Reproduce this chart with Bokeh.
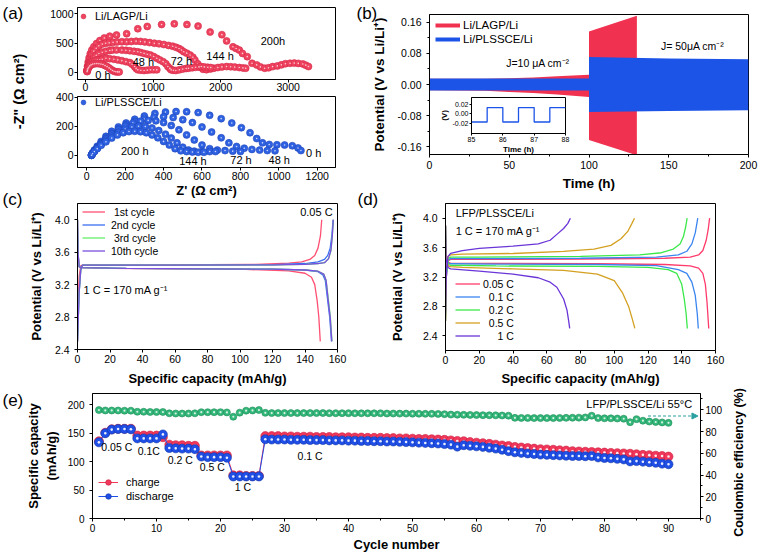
import math
from bokeh.plotting import figure
from bokeh.layouts import column, row
from bokeh.models import (Range1d, LinearAxis, FixedTicker, PrintfTickFormatter,
                          Label, Legend, LegendItem, Arrow, NormalHead)
from bokeh.embed import file_html
from bokeh.resources import INLINE

FONT = "Liberation Sans"

# ---------------- (a) Nyquist data ----------------
a_top_0h_x = [25, 30, 38, 50, 65, 85, 110, 140, 170, 200, 230, 260, 290, 320, 350, 375, 400, 425, 450, 475, 500]
a_top_0h_y = [15, 40, 65, 90, 112, 130, 143, 150, 152, 150, 145, 135, 120, 100, 78, 55, 35, 20, 12, 10, 10]
a_top_48h_x = [25, 30, 38, 50, 65, 85, 110, 140, 175, 211, 250, 305, 360, 422, 480, 540, 600, 657, 690, 727, 750, 775, 820, 868, 915, 962, 1010, 1056]
a_top_48h_y = [20, 50, 85, 115, 145, 170, 190, 205, 212, 213, 225, 242, 235, 225, 215, 202, 185, 169, 140, 101, 70, 45, 38, 34, 40, 45, 45, 45]
a_top_72h_x = [25, 32, 42, 55, 72, 95, 125, 160, 200, 250, 305, 360, 399, 460, 540, 600, 657, 720, 775, 820, 868, 915, 962, 1010, 1056, 1100, 1150, 1190, 1220, 1250, 1268, 1300, 1338, 1390, 1440, 1490, 1526, 1580, 1630, 1680, 1714, 1760, 1810, 1854]
a_top_72h_y = [25, 60, 100, 140, 180, 220, 260, 295, 325, 345, 362, 375, 382, 385, 382, 378, 371, 362, 354, 340, 326, 312, 298, 272, 242, 215, 185, 150, 101, 70, 45, 38, 34, 45, 58, 68, 73, 80, 88, 95, 101, 95, 88, 84]
a_top_144h_x = [25, 35, 50, 70, 95, 125, 160, 200, 250, 300, 352, 410, 469, 540, 610, 680, 750, 815, 880, 950, 1020, 1090, 1160, 1230, 1291, 1340, 1385, 1420, 1455, 1500, 1549, 1590, 1620, 1660, 1700, 1740, 1790, 1850, 1901, 1960, 2020, 2089, 2150, 2210, 2277, 2330, 2371]
a_top_144h_y = [30, 100, 170, 240, 305, 365, 415, 455, 485, 500, 506, 515, 522, 525, 525, 530, 535, 530, 522, 510, 500, 490, 478, 462, 449, 430, 410, 385, 354, 330, 298, 260, 213, 150, 90, 55, 48, 60, 73, 85, 95, 101, 98, 92, 84, 78, 73]
a_top_200h_x = [25, 32, 42, 55, 72, 95, 125, 165, 215, 280, 360, 460, 610, 775, 915, 1127, 1315, 1502, 1667, 1845, 2019, 2089, 2183, 2230, 2277, 2324, 2394, 2465, 2535, 2590, 2653, 2710, 2770, 2840, 2900, 2960, 3028, 3090, 3150, 3216, 3260, 3300]
a_top_200h_y = [40, 110, 180, 250, 320, 385, 440, 495, 545, 590, 620, 640, 663, 747, 787, 820, 831, 820, 792, 691, 646, 539, 438, 410, 382, 326, 270, 157, 129, 95, 73, 80, 100, 112, 130, 150, 157, 160, 155, 146, 125, 101]

a_bot_0h_x = [25, 30, 40, 55, 75, 100, 130, 165, 205, 250, 300, 355, 410, 465, 520, 580, 640, 700, 755, 805, 850, 885, 915, 950, 990, 1030, 1070, 1100, 1115]
a_bot_0h_y = [0, 15, 35, 62, 95, 130, 165, 195, 222, 248, 270, 288, 298, 301, 300, 294, 275, 252, 222, 190, 155, 115, 85, 74, 72, 70, 65, 50, 32]
a_bot_48h_x = [25, 30, 40, 55, 75, 100, 130, 165, 205, 250, 300, 350, 400, 450, 500, 550, 600, 650, 700, 740, 780, 820, 860, 900, 940, 980]
a_bot_48h_y = [0, 12, 30, 55, 85, 118, 150, 180, 208, 232, 250, 262, 265, 260, 245, 225, 195, 160, 120, 85, 60, 48, 40, 35, 32, 30]
a_bot_72h_x = [25, 30, 40, 55, 75, 100, 130, 165, 200, 240, 280, 320, 360, 400, 440, 480, 520, 560, 600, 640, 680, 720, 760, 800]
a_bot_72h_y = [0, 12, 30, 52, 80, 112, 145, 175, 200, 222, 235, 240, 237, 225, 205, 175, 140, 105, 70, 45, 35, 32, 28, 25]
a_bot_144h_x = [25, 30, 40, 55, 75, 100, 130, 165, 200, 235, 270, 305, 340, 375, 410, 440, 470, 500, 530, 560, 600, 640, 670]
a_bot_144h_y = [0, 10, 28, 50, 75, 102, 130, 158, 180, 195, 200, 198, 188, 170, 145, 118, 85, 55, 35, 28, 26, 25, 25]
a_bot_200h_x = [25, 30, 40, 55, 75, 100, 130, 160, 190, 220, 250, 280, 310, 340, 370, 400, 430, 460, 490, 520, 550, 580, 610]
a_bot_200h_y = [0, 10, 25, 45, 68, 92, 118, 140, 155, 163, 165, 162, 155, 140, 120, 95, 70, 45, 30, 25, 22, 20, 20]

# ---------------- (b) cycling envelopes ----------------
lagp_t1 = [0, 35, 50, 65, 80, 90, 100]
lagp_hi1 = [0.015, 0.015, 0.016, 0.018, 0.021, 0.023, 0.025]
lagp_lo1 = [-0.015, -0.016, -0.019, -0.022, -0.026, -0.029, -0.032]
lagp_t2 = [100, 130]
lagp_hi2 = [0.136, 0.177]
lagp_lo2 = [-0.143, -0.182]
pl_t1 = [0, 100]
pl_hi1 = [0.0155, 0.0155]
pl_lo1 = [-0.0155, -0.0155]
pl_t2 = [100, 150, 200]
pl_hi2 = [0.071, 0.067, 0.065]
pl_lo2 = [-0.071, -0.068, -0.066]
ins_t = [85, 85.5, 86.0, 86.5, 87.0, 87.5, 88]
ins_v = [-0.017, 0.013, -0.017, 0.013, -0.017, 0.013, 0.013]

# ---------------- (c) charge/discharge at 0.05 C ----------------
c1_ch_x = [0, 0.5, 1, 2, 3, 10, 40, 80, 110, 130, 138, 143, 146, 148, 149.5, 150.3]
c1_ch_y = [2.5, 3.0, 3.3, 3.43, 3.44, 3.44, 3.44, 3.445, 3.45, 3.465, 3.48, 3.51, 3.56, 3.65, 3.8, 4.0]
c1_dc_x = [0, 0.3, 1, 3, 20, 60, 100, 130, 140, 144, 146, 147.5, 148.5, 149.4]
c1_dc_y = [4.0, 3.6, 3.42, 3.41, 3.40, 3.395, 3.39, 3.37, 3.34, 3.29, 3.2, 3.0, 2.8, 2.5]
c2_ch_x = [0, 1, 2, 3, 10, 60, 120, 140, 148, 152, 154, 155.5, 156.5, 157.3]
c2_ch_y = [2.5, 3.1, 3.38, 3.44, 3.44, 3.44, 3.445, 3.46, 3.48, 3.51, 3.56, 3.65, 3.8, 4.0]
c2_dc_x = [0, 0.3, 1, 3, 30, 80, 120, 140, 148, 151, 152.5, 154, 155.2, 156.3]
c2_dc_y = [4.0, 3.6, 3.42, 3.41, 3.40, 3.395, 3.39, 3.38, 3.36, 3.32, 3.25, 3.0, 2.8, 2.5]
c3_ch_x = [0, 1, 2, 3, 10, 60, 120, 140, 148, 152, 154.5, 156, 156.8, 157.5]
c3_ch_y = [2.5, 3.1, 3.38, 3.44, 3.44, 3.44, 3.443, 3.45, 3.46, 3.47, 3.52, 3.62, 3.8, 4.0]
c3_dc_x = [0, 0.3, 1, 3, 30, 80, 120, 140, 148, 151.5, 153, 154.5, 155.6, 156.6]
c3_dc_y = [4.0, 3.6, 3.42, 3.41, 3.40, 3.395, 3.39, 3.38, 3.365, 3.33, 3.25, 3.0, 2.8, 2.5]
c10_ch_x = [0, 1, 2, 3, 10, 60, 120, 140, 148, 152, 154.5, 156, 156.8, 157.4]
c10_ch_y = [2.5, 3.1, 3.38, 3.44, 3.44, 3.44, 3.443, 3.45, 3.46, 3.47, 3.52, 3.63, 3.8, 4.0]
c10_dc_x = [0, 0.3, 1, 3, 30, 80, 120, 140, 148, 151.5, 153, 154.3, 155.5, 156.5]
c10_dc_y = [4.0, 3.6, 3.42, 3.41, 3.40, 3.395, 3.39, 3.38, 3.365, 3.33, 3.25, 3.0, 2.8, 2.5]
c_labels = ["\u00a01st cycle", "2nd cycle", "\u00a03rd cycle", "10th cycle"]

# ---------------- (d) rate curves ----------------
d005_ch_x = [0, 0.5, 1.5, 3, 20, 80, 130, 145, 150, 152.5, 154.5, 155.7, 156.5]
d005_ch_y = [2.6, 3.2, 3.42, 3.44, 3.44, 3.445, 3.455, 3.47, 3.5, 3.56, 3.7, 3.85, 4.0]
d005_dc_x = [0, 0.3, 1.5, 3, 30, 90, 130, 145, 150, 152.5, 154, 155, 156]
d005_dc_y = [3.9, 3.5, 3.40, 3.39, 3.385, 3.38, 3.37, 3.35, 3.32, 3.25, 3.1, 2.85, 2.5]
d01_ch_x = [0, 0.5, 1.5, 3, 20, 80, 125, 138, 143, 146, 148, 149.5]
d01_ch_y = [2.6, 3.2, 3.43, 3.45, 3.45, 3.455, 3.47, 3.5, 3.55, 3.65, 3.8, 4.0]
d01_dc_x = [0, 0.3, 1.5, 3, 30, 90, 125, 138, 143, 146, 148, 149.2, 149.8]
d01_dc_y = [3.9, 3.5, 3.39, 3.38, 3.375, 3.37, 3.355, 3.3, 3.25, 3.13, 2.95, 2.7, 2.5]
d02_ch_x = [0, 0.5, 1.5, 3, 20, 80, 115, 128, 135, 139, 141, 142.3, 143.2]
d02_ch_y = [2.6, 3.25, 3.45, 3.47, 3.47, 3.48, 3.5, 3.53, 3.58, 3.65, 3.75, 3.88, 4.0]
d02_dc_x = [0, 0.3, 1.5, 3, 30, 90, 120, 132, 137, 140, 141.5, 142.6, 143.3]
d02_dc_y = [3.9, 3.5, 3.37, 3.36, 3.35, 3.345, 3.33, 3.3, 3.25, 3.1, 2.9, 2.7, 2.5]
d05_ch_x = [0, 0.5, 1.5, 3, 10, 40, 70, 88, 98, 104, 108, 110.5, 112]
d05_ch_y = [2.6, 3.3, 3.48, 3.5, 3.51, 3.52, 3.55, 3.58, 3.63, 3.72, 3.82, 3.93, 4.0]
d05_dc_x = [0, 0.3, 1.5, 3, 10, 40, 70, 90, 100, 105, 108.5, 110.8, 112.2]
d05_dc_y = [3.9, 3.5, 3.35, 3.34, 3.33, 3.31, 3.29, 3.24, 3.15, 2.98, 2.8, 2.62, 2.5]
d1_ch_x = [0, 0.5, 1.5, 3, 10, 20, 40, 55, 62, 66, 70, 72.5, 74]
d1_ch_y = [2.7, 3.3, 3.48, 3.52, 3.56, 3.59, 3.62, 3.65, 3.7, 3.78, 3.86, 3.93, 4.0]
d1_dc_x = [0, 0.3, 1.5, 3, 20, 40, 55, 62, 66, 70, 72, 73, 73.6]
d1_dc_y = [3.9, 3.45, 3.33, 3.31, 3.28, 3.24, 3.19, 3.13, 3.06, 2.9, 2.75, 2.6, 2.5]
d_labels = ["0.05 C", "\u00a0\u00a00.1 C", "\u00a0\u00a00.2 C", "\u00a0\u00a00.5 C",
            "\u00a0\u00a0\u00a0\u00a0\u00a01 C"]

# ---------------- (e) rate / cycling ----------------
cycles = list(range(1, 91))
charge = [136, 151, 157, 158, 158, 158,
          146, 146, 146, 146, 143,
          130, 129, 129, 128, 128,
          111, 111, 111, 111, 111,
          76, 76, 75, 75, 75,
          145, 145, 145, 144.5, 144.5, 144, 144, 144, 143.5, 143.5,
          143.5, 143, 143, 143, 142.5, 142.5, 142, 142, 142, 141.5,
          141.5, 141, 141, 140.5, 140, 140, 139.5, 139, 138.5, 137.5,
          136.5, 136, 134.5, 133.5, 132.5, 131.5, 130, 128.5, 127.5, 126,
          125, 124, 123, 122, 121.5, 121, 120, 119.5, 118.5, 118,
          117.5, 117, 116.5, 116, 115.5, 115, 114.5, 114, 113, 112,
          111.5, 110.5, 110, 109]
discharge = [134, 150, 156.5, 157.5, 157.5, 157,
             141, 141, 141, 141, 148,
             124, 123.5, 123, 123, 122,
             109, 108, 108, 108, 107,
             74, 74, 74, 74, 74,
             139.5, 139, 139, 139, 138.5, 138.5, 138.5, 138, 138, 138,
             137.5, 137.5, 137.5, 137, 137, 136.5, 136.5, 136, 136, 135.5,
             135.5, 135, 134.5, 134, 133.5, 133, 132.5, 132, 131, 130,
             126.5, 129, 128, 127, 126, 124.5, 123, 121, 118.5, 116.5,
             115.5, 114.5, 113.5, 112.5, 112, 111.5, 111, 110.5, 110, 110,
             109.5, 110, 107.5, 106.5, 106, 105, 104, 100.5, 101, 100,
             99, 98, 96.5, 95.5]
ce = [99.8, 99.4, 99.4, 99.4, 99.2, 99.2,
      98.2, 98.2, 98.0, 98.0, 98.0,
      96.8, 96.6, 96.6, 96.6, 96.8,
      97.8, 97.8, 97.8, 97.8, 97.6,
      93.6, 97.4, 99.2, 99.4, 99.8,
      97.2,
      97.0, 97.0, 97.0, 97.0, 97.0, 97.0, 97.0, 97.0, 97.0, 96.9, 96.9, 96.9, 96.9, 96.8, 96.8, 96.8, 96.8, 96.8,
      96.6, 96.6, 96.5, 96.5, 96.4, 96.4, 96.3, 96.3, 96.2, 96.0,
      95.6, 95.5, 95.4, 95.3, 95.2, 95.1, 95.0, 94.9, 94.8, 94.6,
      92.6, 92.5, 92.5, 92.4, 92.4, 92.4, 92.4, 92.5, 92.6, 92.7, 92.8, 93.0,
      94.6,
      92.4, 92.2, 92.2, 92.0, 91.8,
      88.6, 91.4,
      90.0, 89.2, 88.8, 88.4, 88.0]
e_rate_labels = ["0.05 C", "0.1C", "0.2 C", "0.5 C", "1 C", "0.1 C"]
panel_letters = ["(a)", "(b)", "(c)", "(d)", "(e)"]

# ---------------- colours ----------------
RED_A, RED_A_D = "#f0435f", "#d42a48"
BLUE_A, BLUE_A_D = "#2f62e3", "#1d44b8"
RED_B, BLUE_B = "#f0314f", "#1c54e8"
C_COLS = ["#ff4f72", "#3b6ff0", "#66ee66", "#7b4fe0"]
D_COLS = ["#ff3b6b", "#3a85f0", "#3be84a", "#d4a020", "#6a35d8"]
RED_E, RED_E_D = "#f2385a", "#c81e40"
BLUE_E, BLUE_E_D = "#1f4fe6", "#1235a8"
GREEN_E, GREEN_E_D = "#33b87a", "#1f8a58"
TEAL = "#2aa0a0"


def make_fig(w, h, xr, yr, bl, br, bt, bb, margin=(0, 0, 0, 0)):
    p = figure(width=w, height=h, x_range=Range1d(*xr), y_range=Range1d(*yr),
               output_backend="svg", toolbar_location=None,
               min_border_left=bl, min_border_right=br,
               min_border_top=bt, min_border_bottom=bb, margin=margin,
               frame_align=False)
    p.border_fill_color = None
    p.background_fill_color = "white"
    p.outline_line_color = "black"
    p.outline_line_width = 1
    p.xgrid.visible = False
    p.ygrid.visible = False
    return p


def axstyle(ax, ticks, minor=None, fmt=None, size="10.5px", standoff=4, tick_out=3,
            label=None, label_size="13px", label_standoff=5):
    ax.ticker = FixedTicker(ticks=ticks, minor_ticks=minor or [])
    if fmt:
        ax.formatter = PrintfTickFormatter(format=fmt)
    ax.axis_line_color = "black"
    ax.major_tick_line_color = "black"
    ax.minor_tick_line_color = "black"
    ax.major_tick_in = 0
    ax.major_tick_out = tick_out
    ax.minor_tick_in = 0
    ax.minor_tick_out = 2
    ax.major_label_text_font = FONT
    ax.major_label_text_font_size = size
    ax.major_label_text_color = "black"
    ax.major_label_standoff = standoff
    if label:
        ax.axis_label = label
        ax.axis_label_text_font = FONT
        ax.axis_label_text_font_style = "bold"
        ax.axis_label_text_font_size = label_size
        ax.axis_label_text_color = "black"
        ax.axis_label_standoff = label_standoff


def lab(p, text, x, y, size="11px", align="left", color="black", bold=False, angle=0.0):
    p.add_layout(Label(x=x, y=y, text=text, text_font=FONT, text_font_size=size,
                       text_align=align, text_baseline="middle", text_color=color,
                       text_font_style="bold" if bold else "normal", angle=angle))


def legend(p, items, loc, gw, gh, lh, standoff, size="10.5px", spacing=0):
    lg = Legend(items=[LegendItem(label=l, renderers=r) for l, r in items],
                location=loc, glyph_width=gw, glyph_height=gh, label_height=lh,
                label_standoff=standoff, spacing=spacing, padding=0, margin=0,
                label_text_font=FONT, label_text_font_size=size,
                label_text_color="black", background_fill_alpha=0,
                border_line_alpha=0)
    p.add_layout(lg)


def spheres(p, xs, ys, size, col, dcol, hl=2.5, hl_alpha=0.9, y_range_name="default"):
    r1 = p.scatter(xs, ys, size=size, fill_color=col, line_color=dcol, line_width=0.6,
                   y_range_name=y_range_name)
    p.scatter(xs, ys, size=hl, fill_color="white", line_color=None, fill_alpha=hl_alpha,
              y_range_name=y_range_name)
    return r1


# ================= (a) top =================
pA1 = make_fig(370, 95, (-117, 3700), (-120, 1110), 77, 35, 7, 16)
axstyle(pA1.xaxis[0], [0, 1000, 2000, 3000], standoff=0)
axstyle(pA1.yaxis[0], [0, 500, 1000], standoff=1)
ra = None
for xs, ys in [(a_top_200h_x, a_top_200h_y), (a_top_144h_x, a_top_144h_y),
               (a_top_72h_x, a_top_72h_y), (a_top_48h_x, a_top_48h_y),
               (a_top_0h_x, a_top_0h_y)]:
    ra = spheres(pA1, xs, ys, 7, RED_A, RED_A_D, hl=1.6, hl_alpha=0.75)
legend(pA1, [("Li/LAGP/Li", [ra])], (0, 57), 12, 12, 12, 6, size="11px")
lab(pA1, "0 h", 258, -39, align="center")
lab(pA1, "48 h", 858, 174, align="center")
lab(pA1, "72 h", 1420, 197, align="center")
lab(pA1, "144 h", 1992, 281, align="center")
lab(pA1, "200h", 2775, 539, align="center")

# ================= (a) bottom =================
pA2 = make_fig(370, 155, (-48, 1295), (-85, 405), 77, 35, 51, 32, margin=(-50, 0, 0, 0))
axstyle(pA2.xaxis[0], [0, 200, 400, 600, 800, 1000, 1200], standoff=1,
        label="Z' (Ω cm²)", label_standoff=0)
axstyle(pA2.yaxis[0], [0, 200, 400], standoff=1)
rb = None
for xs, ys in [(a_bot_0h_x, a_bot_0h_y), (a_bot_48h_x, a_bot_48h_y),
               (a_bot_72h_x, a_bot_72h_y), (a_bot_144h_x, a_bot_144h_y),
               (a_bot_200h_x, a_bot_200h_y)]:
    rb = spheres(pA2, xs, ys, 7, BLUE_A, BLUE_A_D, hl=1.6, hl_alpha=0.75)
legend(pA2, [("Li/PLSSCE/Li", [rb])], (0, 59), 12, 12, 12, 6, size="11px")
lab(pA2, "200 h", 250, 27, align="center")
lab(pA2, "144 h", 553, -40, align="center")
lab(pA2, "72 h", 803, -33, align="center")
lab(pA2, "48 h", 1002, -33, align="center")
lab(pA2, "0 h", 1181, 16, align="center")

# ================= (b) =================
pB = make_fig(409, 200, (0, 200), (-0.18, 0.18), 79, 11, 14, 46, margin=(0, 0, 0, -20))
axstyle(pB.xaxis[0], [0, 50, 100, 150, 200], minor=[25, 75, 125, 175], standoff=3,
        label="Time (h)", label_size="13.5px", label_standoff=4)
axstyle(pB.yaxis[0], [-0.16, -0.08, 0, 0.08, 0.16], minor=[-0.12, -0.04, 0.04, 0.12],
        fmt="%.2f", standoff=5, label="Potential (V vs Li/Li⁺)", label_size="13.5px",
        label_standoff=8)
pB.varea(x=lagp_t1, y1=lagp_lo1, y2=lagp_hi1, fill_color=RED_B)
pB.varea(x=lagp_t2, y1=lagp_lo2, y2=lagp_hi2, fill_color=RED_B)
pB.varea(x=pl_t1, y1=pl_lo1, y2=pl_hi1, fill_color=BLUE_B)
pB.varea(x=pl_t2, y1=pl_lo2, y2=pl_hi2, fill_color=BLUE_B)
lr1 = pB.line(lagp_t2, lagp_hi2, line_color=RED_B, line_width=4, visible=False)
lr2 = pB.line(pl_t2, pl_hi2, line_color=BLUE_B, line_width=4, visible=False)
legend(pB, [("Li/LAGP/Li", [lr1]), ("Li/PLSSCE/Li", [lr2])], (6, 108), 25, 14, 14, 3,
       size="11.5px")
lab(pB, "J=10 μA cm⁻²", 68, 0.055, align="center", size="10.5px")
lab(pB, "J= 50μA cm⁻²", 165, 0.0985, align="center", size="10.5px")

# inset (placed over panel b)
pI = figure(width=134, height=67, x_range=Range1d(85, 88),
            y_range=Range1d(-0.041, 0.034), output_backend="svg", toolbar_location=None,
            min_border_left=31, min_border_right=5, min_border_top=7, min_border_bottom=24,
            margin=(-464, 0, 0, 436), frame_align=False)
pI.border_fill_color = None
pI.background_fill_color = "white"
pI.outline_line_color = "black"
pI.xgrid.visible = False
pI.ygrid.visible = False
axstyle(pI.xaxis[0], [85, 86, 87, 88], size="7px", standoff=1, tick_out=2,
        label="Time (h)", label_size="8px", label_standoff=0)
axstyle(pI.yaxis[0], [-0.02, 0, 0.02], fmt="%.2f", size="7px", standoff=1, tick_out=2,
        label="(V)", label_size="8px", label_standoff=1)
pI.step(ins_t, ins_v, mode="after", line_color=BLUE_B, line_width=1.3)

# ================= (c) =================
pC = make_fig(370, 200, (0, 160), (2.4, 4.2), 77, 33, 13, 41)
axstyle(pC.xaxis[0], list(range(0, 161, 20)), standoff=2,
        label="Specific capacity (mAh/g)", label_size="13px", label_standoff=5)
axstyle(pC.yaxis[0], [2.4, 2.8, 3.2, 3.6, 4.0], fmt="%.1f", standoff=5,
        label="Potential (V vs Li/Li⁺)", label_size="13px", label_standoff=8)
c_items = []
for (cx, cy, dx, dy), col, lb in zip([(c1_ch_x, c1_ch_y, c1_dc_x, c1_dc_y),
                                      (c2_ch_x, c2_ch_y, c2_dc_x, c2_dc_y),
                                      (c3_ch_x, c3_ch_y, c3_dc_x, c3_dc_y),
                                      (c10_ch_x, c10_ch_y, c10_dc_x, c10_dc_y)],
                                     C_COLS, c_labels):
    r = pC.line(cx, cy, line_color=col, line_width=1.3)
    pC.line(dx, dy, line_color=col, line_width=1.3)
    c_items.append((lb, [r]))
legend(pC, c_items, (5, 92), 23, 13, 13, 6, size="10.5px")
lab(pC, "0.05 C", 147, 4.09, align="center", size="11px")
lab(pC, "1 C = 170 mA g⁻¹", 3.7, 3.13, align="left", size="11px")

# ================= (d) =================
pD = make_fig(409, 200, (0, 160), (2.2, 4.2), 95, 44, 13, 40, margin=(0, 0, 0, -20))
axstyle(pD.xaxis[0], list(range(0, 161, 20)), standoff=2,
        label="Specific capacity (mAh/g)", label_size="13px", label_standoff=4)
axstyle(pD.yaxis[0], [2.4, 2.8, 3.2, 3.6, 4.0], fmt="%.1f", standoff=5,
        label="Potential (V vs Li/Li⁺)", label_size="13px", label_standoff=15)
d_items = []
for (cx, cy, dx, dy), col, lb in zip([(d005_ch_x, d005_ch_y, d005_dc_x, d005_dc_y),
                                      (d01_ch_x, d01_ch_y, d01_dc_x, d01_dc_y),
                                      (d02_ch_x, d02_ch_y, d02_dc_x, d02_dc_y),
                                      (d05_ch_x, d05_ch_y, d05_dc_x, d05_dc_y),
                                      (d1_ch_x, d1_ch_y, d1_dc_x, d1_dc_y)],
                                     D_COLS, d_labels):
    r = pD.line(cx, cy, line_color=col, line_width=1.3)
    pD.line(dx, dy, line_color=col, line_width=1.3)
    d_items.append((lb, [r]))
legend(pD, d_items, (10, 8), 25, 13, 13, 3, size="10.5px")
lab(pD, "LFP/PLSSCE/Li", 6, 4.065, align="left", size="11px")
lab(pD, "1 C = 170 mA g⁻¹", 6, 3.83, align="left", size="11px")

# ================= (e) =================
pE = make_fig(759, 174, (0, 95), (0, 220), 92, 59, 13, 35, margin=(-10, 0, 0, 0))
pE.extra_y_ranges = {"ce": Range1d(0, 115)}
axR = LinearAxis(y_range_name="ce")
pE.add_layout(axR, "right")
axstyle(pE.xaxis[0], list(range(0, 91, 10)), minor=list(range(5, 96, 10)), size="10px",
        standoff=2, label="Cycle number", label_size="13px", label_standoff=2)
axstyle(pE.yaxis[0], [0, 50, 100, 150, 200], size="10px", standoff=5,
        label="Specific capacity\n(mAh/g)", label_size="13px", label_standoff=6)
axstyle(axR, [0, 20, 40, 60, 80, 100], minor=[10, 30, 50, 70, 90, 110], size="10px",
        standoff=2)
lc = pE.line(cycles, charge, line_color=RED_E, line_width=1)
rc = spheres(pE, cycles, charge, 9, RED_E, RED_E_D, hl=2.6)
ld = pE.line(cycles, discharge, line_color=BLUE_E, line_width=1)
rd = spheres(pE, cycles, discharge, 9, BLUE_E, BLUE_E_D, hl=2.6)
spheres(pE, cycles, ce, 7, GREEN_E, GREEN_E_D, hl=2.2, hl_alpha=0.8, y_range_name="ce")
legend(pE, [("charge", [lc, rc]), ("discharge", [ld, rd])], (6, 15), 20, 14, 14, 8,
       size="11px")
for t, x, y in zip(e_rate_labels, [3.8, 8.8, 13.7, 18.7, 23.5, 34],
                   [125, 119, 103, 91, 55, 110]):
    lab(pE, t, x, y, align="center", size="10.5px")
lab(pE, "LFP/PLSSCE/Li 55°C", 93.7, 202, align="right", size="11px")
pE.add_layout(Arrow(end=NormalHead(size=6, fill_color=TEAL, line_color=TEAL),
                    x_start=86.8, y_start=94.3, x_end=94.6, y_end=94.3,
                    y_range_name="ce", line_color=TEAL, line_dash="3 2", line_width=1.2))

# ================= overlay: panel letters and titles outside single frames =================
# page-pixel coordinate system (y grows downward) on a transparent full-page canvas
pO = figure(width=759, height=554, x_range=Range1d(0, 759), y_range=Range1d(554, 0),
            output_backend="svg", toolbar_location=None, min_border=0,
            x_axis_type=None, y_axis_type=None, margin=(-157, 0, 0, 0),
            frame_align=False)
pO.outline_line_color = None
pO.border_fill_color = None
pO.background_fill_color = None
for t, x, y in zip(panel_letters, [2, 356, 2, 357, 2], [13, 13, 199, 199, 400]):
    lab(pO, t, x, y, size="17px", align="left")
lab(pO, '-Z" (Ω cm²)', 18, 91, size="14.5px", align="center", bold=True,
    angle=math.pi / 2)
lab(pO, "Coulombic efficiency (%)", 738, 462, size="12.5px", align="center", bold=True,
    angle=math.pi / 2)

# ================= layout =================
colA = column(pA1, pA2)
row1 = row(colA, pB)
row2 = row(pC, pD, margin=(-10, 0, 0, 0))
page = column(row1, row2, pE, pI, pO)

open("out.html", "w").write(file_html(page, INLINE, title="chart"))
